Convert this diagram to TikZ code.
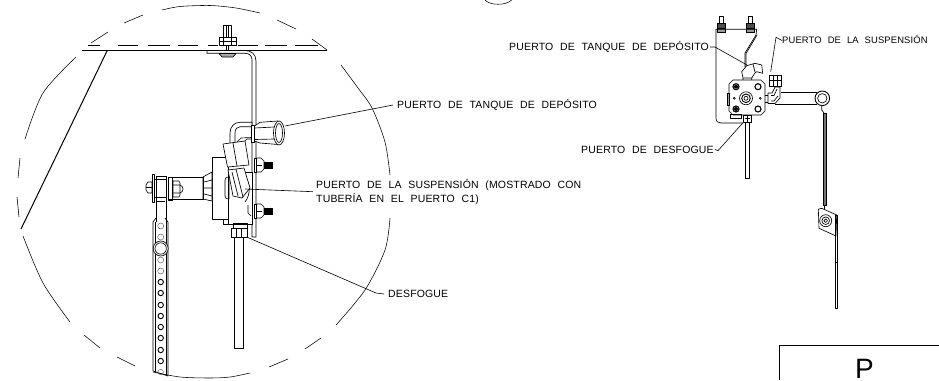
\documentclass[tikz,border=0pt]{standalone}
\usepackage{fontspec}
\usepackage{tikz}
\usetikzlibrary{positioning}
\newfontfamily\callfont[LetterSpace=1.5,WordSpace=2.2]{Liberation Sans}
\newfontfamily\boxfont{Liberation Sans}

\begin{document}
\begin{tikzpicture}[
	x=1pt, y=-1pt,
	every node/.style={font=\callfont\fontsize{10.5}{14}\selectfont, inner sep=0pt, anchor=west, align=left},
	rim/.style={draw, line width=0.55pt},
	part/.style={draw, line width=0.65pt, line join=round},
	cover/.style={part, fill=white},
	heavy/.style={draw, line width=1pt},
	leader/.style={draw, line width=0.6pt},
	hole/.style={draw=black!60, line width=0.5pt},
	darkhole/.style={draw, line width=0.9pt},
	]
	\useasboundingbox (0,0) rectangle (939,380);
	
	% Detail circle
	\draw[rim] plot[smooth] coordinates {(162,10) (180,6.5) (210,5.5) (236,8) (260,13)};
	\draw[rim] (277,20) -- (296,29);
	\draw[rim] (312,39) -- (327,50);
	\draw[rim] plot[smooth] coordinates {(341,65) (358,88) (372,108) (385,142) (390,175)};
	\draw[rim] plot[smooth] coordinates {(390,218) (385,250) (365,290) (336,325)};
	\draw[rim] (321,338) -- (305,349);
	\draw[rim] (288,359) -- (269,367);
	\draw[rim] plot[smooth] coordinates {(250,373) (230,377) (210,378) (180,377) (153,372)};
	\draw[rim] (135,366) -- (117,357);
	\draw[rim] (100,348) -- (84,335);
	\draw[rim] plot[smooth] coordinates {(70,322) (43,283) (23,236)};
	\draw[rim] (19,217) -- (17,197);
	\draw[rim] (18,178) -- (20,158);
	\draw[rim] plot[smooth] coordinates {(25,139) (43,93) (76,57)};
	\draw[rim] (91,43) -- (108,32);
	\draw[rim] (124,23) -- (143,15);
	\draw[rim] (485,0) .. controls (490,5.7) and (506,5.7) .. (511.7,0);
	
	% Tank wall
	\foreach \a/\b in {88/100,118/138,148/170,178/198,208/218,238/258,265/287,295/318}
		\draw[line width=0.6pt] (\a,45) -- (\b,45);
	\draw[part] (82,50.5) -- (327,50.5);
	\draw[heavy] (107,51) -- (21,229);
	
	% Bracket and top bolt
	\draw[part] (207,50.5) -- (207,53.3) -- (245,53.3) .. controls (249.5,53.3) and (252,56) .. (252,60) -- (252,237) -- (256,237) -- (256,61) .. controls (256,54) and (251,50.5) .. (245,50.5);
	\draw[part, fill=black!35] (219,53.5) -- (236,53.5) -- (233,57) -- (222,57) -- cycle;
	\draw[part] (223,43) -- (223,25) -- (231,25) -- (231,43) (226,25) -- (226,50) (228,25) -- (228,50);
	\draw[cover] (219,37) rectangle (236,45);
	\draw[part] (219,41) -- (236,41) (223,37) -- (223,45) (231,37) -- (231,45);
	
	% Studs behind the bracket
	\foreach \y in {158,204} {
		\draw[cover] (254,\y) rectangle (256.5,\y+14);
		\draw[cover] (256.5,\y) -- (261,\y) -- (264,\y+3) -- (264,\y+11) -- (261,\y+14) -- (256.5,\y+14) -- cycle;
		\draw[part] (256.5,\y+7) -- (262,\y+7);
		\fill (264,\y+3.5) rectangle (273,\y+10.5);
	}
	
	% Valve body
	\draw[cover] (212,157) -- (228,157) -- (228,219) -- (212,219) -- cycle;
	\draw[cover] (228,172) -- (252,172) -- (252,224) -- (228,224) -- cycle;
	\draw[part] (223,219) -- (223,224) -- (228,224);
	\draw[part] (225,180) .. controls (225,177) and (227,177) .. (229,177) -- (229,199) .. controls (227,199) and (225,199) .. (225,196) -- cycle;
	\draw[part] (246,178) .. controls (250,184) and (251,194) .. (245,202);
	\draw[part] (248,205) -- (248,213) -- (251,216);
	
	% Upper elbow and nut
	\draw[cover] (252,122.3) -- (240,122.3) .. controls (234,122.3) and (230,127) .. (230,133) -- (230,144) -- (236,146) -- (245,141) -- (247,139) -- (252,139) -- cycle;
	\draw[part] (251,126.7) -- (240,126.7) .. controls (237,126.7) and (235,129) .. (235,133) -- (235,142);
	\draw[part] (236,143) -- (241,138) -- (252,137.5);
	\draw[cover] (251,125) rectangle (254.5,142);
	\draw[cover] (254.5,126) -- (260,122.3) -- (278,121) .. controls (285,122) and (286,141) .. (278,144.5) -- (260,143) -- (254.5,141) -- cycle;
	\draw[cover] (279,133) ellipse [x radius=5.5, y radius=12];
	\draw[part] (279,133) ellipse [x radius=3.5, y radius=9.5];
	\draw[part] (254.5,128) -- (274,127) (255,139.5) -- (274,139);
	
	% Tilted fittings
	\draw[cover] (223,144) -- (245,141) -- (249,165) -- (227.5,167) -- cycle;
	\draw[part] (233,143) -- (237,166);
	\draw[cover] (228,170) -- (244,168) -- (250,188) -- (242,198) -- (233,196) -- cycle;
	\draw[part] (236,169) -- (243,197) (232,172) -- (238,196);
	
	% Lever connection
	\draw[cover] (203,177) -- (212,172) -- (212,201) -- (203,199) -- cycle;
	\draw[part] (204,182) -- (212,180) (204,194) -- (212,196) (204,188) -- (212,188);
	\draw[part] (168,177) -- (203,177) -- (203,199) -- (168,199);
	\draw[part] (156,222) -- (156,176) -- (166,176) -- (166,222);
	\draw[part] (156,179) -- (166,179) (156,197) -- (166,197);
	\draw[part] (157,201) -- (165,201);
	\draw[part] (152,174) rectangle (154,202);
	\draw[part] (154,179) -- (156,179) (154,197) -- (156,197);
	\draw[part] (148,182) -- (152,182) -- (152,193) -- (148,193) -- (146,190) -- (146,185) -- cycle;
	\draw[part] (146,187.5) -- (152,187.5);
	\draw[part] (168,177) rectangle (172.7,200);
	\draw[part] (173,181) -- (179,181) -- (180,183) -- (180,195) -- (179,197) -- (173,197) -- cycle;
	\draw[part] (173,185) -- (180,185) (173,193) -- (180,193) (180,185) .. controls (184,186) and (184,192) .. (180,193);
	
	% Lever strip with its holes
	\draw[part] (156,218) -- (153,222) -- (153,371) -- (168,376) -- (168,222) -- (165,218);
	\draw[part] (155,222) -- (155,372) (166.5,222) -- (166.5,375);
	\foreach \y in {226,237,260,271}
		\draw[hole] (160.7,\y) circle (3);
	\foreach \y in {282,293,305,316,327,338,350,361}
		\draw[darkhole] (160.7,\y) circle (2.7);
	\draw[hole] (160.7,372) circle (2.7);
	\draw[cover] (160.7,248.5) circle (7.5);
	\draw[part] (160.7,248.5) circle (5.7);
	
	% Drain fitting and tube
	\draw[part] (233,223) rectangle (247,228);
	\draw[part] (231,228) rectangle (247,237);
	\draw[part] (236,228) -- (236,237) (241,228) -- (241,237);
	\draw[part] (234,237) rectangle (243,348);
	
	% Small view, plate and studs
	\foreach \x in {721.7,750} {
		\draw[part, line width=0.8pt] (\x-2,16) rectangle (\x+2,23);
		\draw[part, fill=black!70] (\x-4,23) rectangle (\x+4,28);
		\draw[part, fill=black!40] (\x-4,28) rectangle (\x+4,32);
	}
	\draw[part] (745,67) -- (745,53) -- (756,35) -- (756.7,29.3) -- (716,29.3) -- (716,118) .. controls (716,121.5) and (718,123) .. (721,123) -- (743,123);
	\draw[part] (746,67) -- (746,53.5) -- (757,35);
	
	% Small view, top elbow
	\draw[cover] (743,78) -- (741.7,71.7) -- (746.7,65.7) -- (755,63.3) -- (761.7,65) -- (762.7,73.3) -- (756.7,71.7) -- (755,73) -- (751.7,78) -- cycle;
	\draw[part] (753,64) -- (755,72) (743,78) -- (743,80) (751.7,78) -- (751.7,80);
	
	% Small view, valve body
	\draw[cover] (733,80) -- (761,80) -- (765,84) -- (765,111) -- (761,115) -- (733,115) -- (729,111) -- (729,84) -- cycle;
	\draw[part] (727.3,93) rectangle (729,105);
	\foreach \x in {736,758} \foreach \y in {86.7,109} {
		\draw[darkhole, line width=1.1pt] (\x,\y) circle (3);
	}
	\fill (736,86.7) circle (2) (736,109) circle (2);
	\draw[part] (746,98.3) circle (6.5);
	\draw[darkhole] (746,98.3) circle (4.3);
	\draw[part] (746,98.3) circle (2);
	\draw[part] (734.3,98.3) circle (1) (760.3,98.3) circle (1);
	\draw[part] (730,114.5) rectangle (741.7,118.3);
	
	% Small view, side elbow and nut
	\draw[part] (765,95) -- (768,95) -- (768,102) -- (765,102);
	\draw[cover] (768,93) -- (772,93) -- (775,87) -- (780,87) -- (780,98) -- (775,103.5) -- (768,103.5) -- cycle;
	\draw[part] (771,95.5) -- (774,95.5) -- (777,89) (771,101) -- (774,101) -- (778,96);
	\draw[cover] (769,75) rectangle (781.7,86);
	\draw[part] (769,80) -- (781.7,80) (773,75) -- (773,86) (777.5,75) -- (777.5,86);
	
	% Small view, lever and lower bracket
	\draw[part] (781,92.7) -- (816.7,92.7) (775,104) -- (816.7,104);
	\draw[part, line width=0.9pt] (822.3,98.3) circle (7.3);
	\draw[part] (822.3,98.3) circle (4.7);
	\draw[part] (821.7,105) -- (821.7,110) -- (824,113);
	\draw[part, line width=1pt, fill=black!55] (823.3,113) rectangle (826,205);
	\draw[part] (824,205) -- (824,209);
	\draw[cover] (818.3,209.3) -- (821.7,208.3) -- (836.7,215) -- (836,236) -- (819,228.3) -- cycle;
	\draw[part] (825.7,220.7) circle (6);
	\draw[part] (825.7,220.7) circle (3.8);
	\draw[part] (825.7,220.7) circle (1.8);
	\draw[part] (835,215) rectangle (837.3,308.3);
	\draw[part] (835,262) -- (837.3,262);
	
	% Small view, drain fitting and tube
	\draw[part] (743.3,115) rectangle (751.7,122.7);
	\draw[part] (745,118.5) -- (750,118.5) (747.5,115) -- (747.5,122.7);
	\draw[part] (745,122.7) rectangle (749.7,178);
	
	% Title box
	\draw[part] (779.3,380) -- (779.3,345.7) -- (939,345.7);
	\node[anchor=center, font=\boxfont\fontsize{28}{28}\selectfont] (boxlbl) at (864.5,368.7) {P};
	
	% Labels of the large view
	\node (tanklbl) at (397,105) {PUERTO DE TANQUE DE DEPÓSITO};
	\node (susplbl) at (316,192) {PUERTO DE LA SUSPENSIÓN (MOSTRADO CON\\TUBERÍA EN EL PUERTO C1)};
	\node (ventlbl) at (388,294) {DESFOGUE};
	
	% Labels of the small view
	\node (tanksmall) at (509,47) {PUERTO DE TANQUE DE DEPÓSITO};
	\node[font=\callfont\fontsize{9.4}{12}\selectfont] (suspsmall) at (782,39) {PUERTO DE LA SUSPENSIÓN};
	\node (ventsmall) at (581,149.5) {PUERTO DE DESFOGUE};
	
	% Ends of the leaders
	\coordinate (tankend) at (285,126);
	\coordinate (suspend) at (245,189);
	\coordinate (ventend) at (246.7,237);
	\coordinate (tanksmallend) at (747,65);
	\coordinate (suspsmallend) at (770.7,71.7);
	\coordinate (ventsmallend) at (743,122.7);
	
	% Leaders
	\draw[leader] (tankend) -- ([xshift=-4pt]tanklbl.west);
	\draw[leader] (suspend) -- (313,191.7);
	\draw[leader] (ventend) -- (376,293) -- ([xshift=-4pt]ventlbl.west);
	\draw[leader] ([xshift=1pt]tanksmall.east) -- (715,47) -- (tanksmallend);
	\draw[leader] ([yshift=-1.5pt]suspsmall.west) -- (776,37.3) -- (suspsmallend);
	\draw[leader] ([xshift=1pt]ventsmall.east) -- (718,150.7) -- (ventsmallend);
	
\end{tikzpicture}
\end{document}
